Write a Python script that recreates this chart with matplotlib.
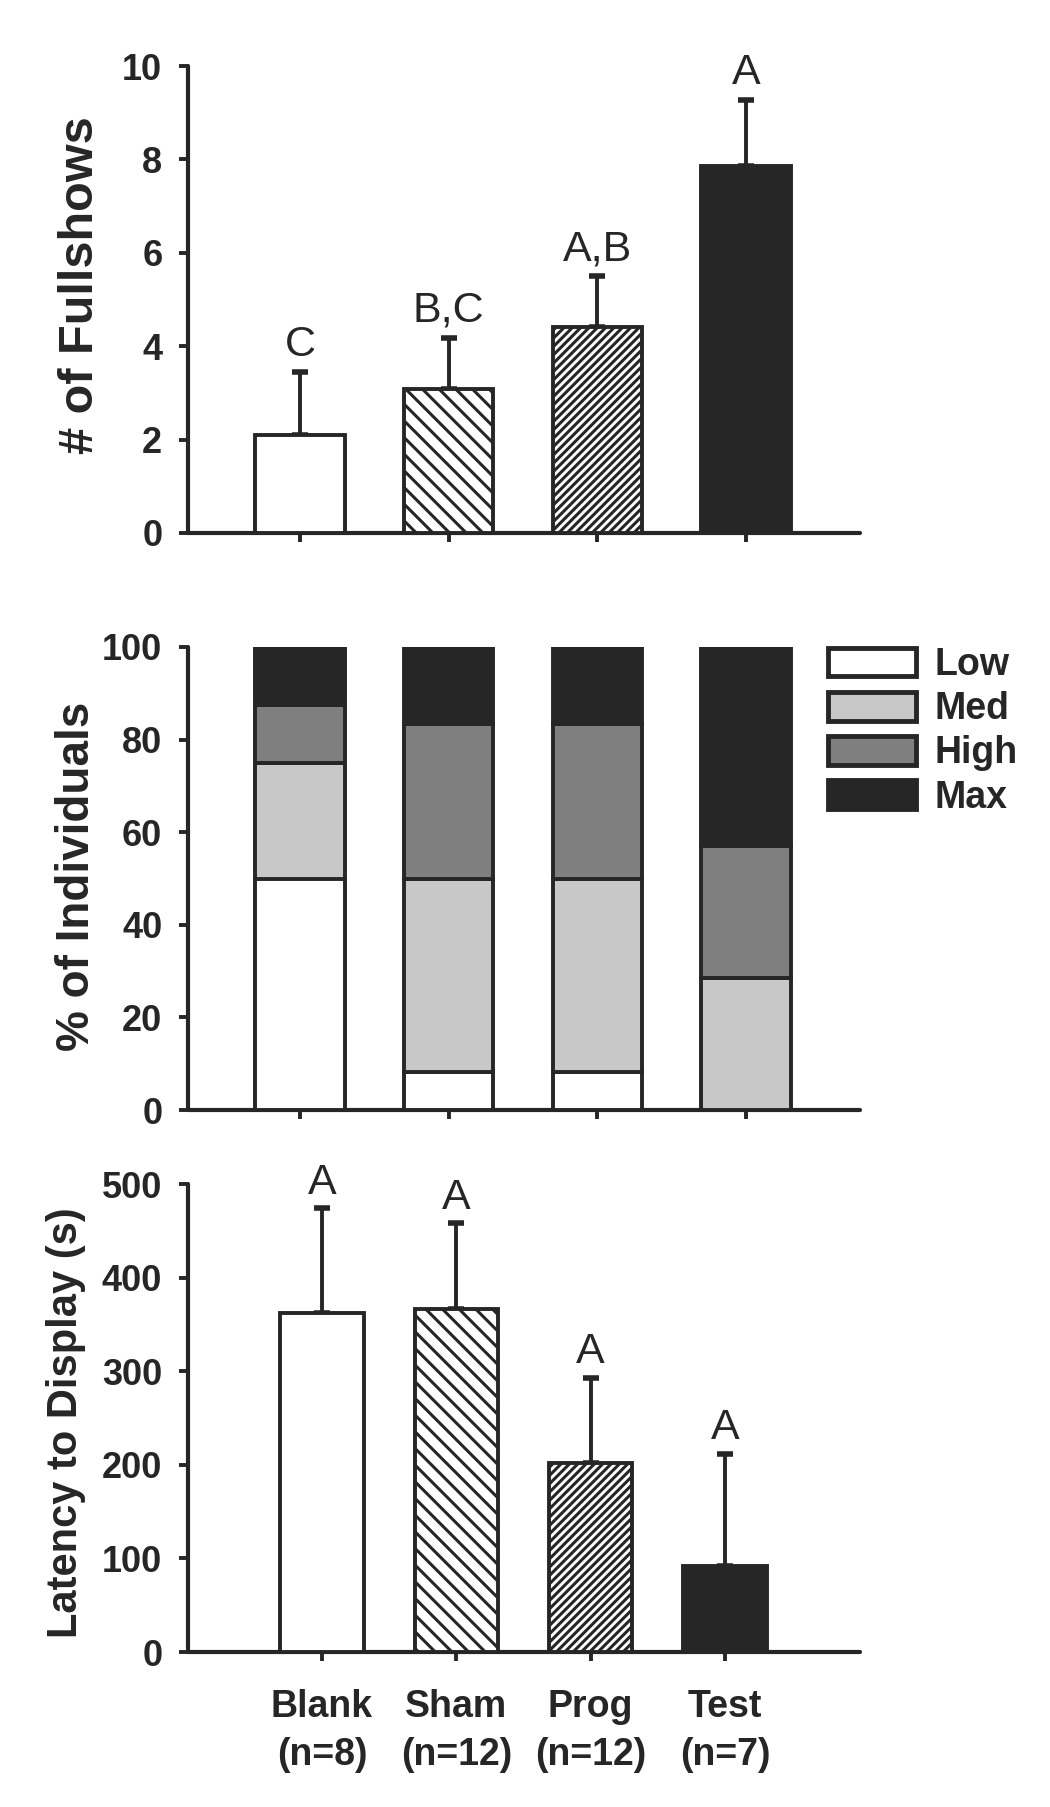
import matplotlib

matplotlib.use("Agg")
import matplotlib.pyplot as plt
from matplotlib.patches import Patch

INK = "#262626"

plt.rcParams["font.family"] = ["Liberation Sans", "DejaVu Sans"]
plt.rcParams["hatch.linewidth"] = 2.2
plt.rcParams["hatch.color"] = INK

GROUPS = ["Blank", "Sham", "Prog", "Test"]
GROUP_N = ["(n=8)", "(n=12)", "(n=12)", "(n=7)"]

# top panel: number of full shows (mean, upper SE)
FULLSHOWS = [2.1, 3.08, 4.42, 7.85]
FULLSHOWS_ERR = [1.35, 1.1, 1.08, 1.43]
FULLSHOWS_LETTERS = ["C", "B,C", "A,B", "A"]

# middle panel: % of individuals per display level
LEVELS = ["Low", "Med", "High", "Max"]
LEVEL_PCT = {
    "Low": [50.0, 8.3, 8.3, 0.0],
    "Med": [25.0, 41.7, 41.7, 28.6],
    "High": [12.5, 33.3, 33.3, 28.5],
    "Max": [12.5, 16.7, 16.7, 42.9],
}
LEVEL_COLORS = {"Low": "white", "Med": "#c8c8c8", "High": "#7f7f7f", "Max": INK}

# bottom panel: latency to display (s)
LATENCY = [362, 366, 202, 92]
LATENCY_ERR = [112, 92, 91, 120]
LATENCY_LETTERS = ["A", "A", "A", "A"]

FILLS = ["white", "white", "white", INK]
HATCHES = [None, "\\\\", "////", None]


def style_axis(ax, ylim, yticks, ylabel, label_xy, label_size):
    for side in ("top", "right"):
        ax.spines[side].set_visible(False)
    for side in ("left", "bottom"):
        ax.spines[side].set_linewidth(3)
        ax.spines[side].set_color(INK)
        ax.spines[side].set_capstyle("round")
    ax.set_ylim(*ylim)
    ax.set_yticks(yticks)
    ax.tick_params(axis="y", length=6.5, width=2.8, color=INK, pad=12,
                   labelsize=26, labelcolor=INK)
    ax.tick_params(axis="x", length=6.5, width=2.8, color=INK, direction="out")
    for lab in ax.get_yticklabels():
        lab.set_fontweight("bold")
    ax.set_ylabel(ylabel, fontsize=label_size, fontweight="bold", color=INK)
    ax.yaxis.set_label_coords(*label_xy)


def draw_bars(ax, x, heights, errs, letters, width, offset):
    for i in range(len(x)):
        ax.bar(x[i], heights[i], width=width, color=FILLS[i], edgecolor=INK,
               linewidth=2.8, hatch=HATCHES[i], zorder=3)
    ax.errorbar(x, heights, yerr=[[0] * len(x), errs], fmt="none",
                ecolor=INK, elinewidth=2.8, capsize=5.5, capthick=4, zorder=2)
    for i in range(len(x)):
        ax.annotate(letters[i], (x[i], heights[i] + errs[i]),
                    xytext=(0, offset), textcoords="offset points",
                    ha="center", va="bottom", fontsize=31, color=INK,
                    annotation_clip=False)


fig = plt.figure(figsize=(10.5, 18.07), dpi=100)
W, H = 1050, 1807
LEFT, AX_W = 188, 672

x = list(range(len(GROUPS)))

# top panel
ax1 = fig.add_axes([LEFT / W, 1 - 533 / H, AX_W / W, 467 / H])
draw_bars(ax1, x, FULLSHOWS, FULLSHOWS_ERR, FULLSHOWS_LETTERS, 0.6, 5)
ax1.set_xlim(-0.753, 3.767)
ax1.set_xticks(x)
ax1.set_xticklabels([])
style_axis(ax1, (0, 10), range(0, 11, 2), "# of Fullshows", (-0.126, 0.53), 35)

# middle panel
ax2 = fig.add_axes([LEFT / W, 1 - 1110 / H, AX_W / W, 463 / H])
bottom = [0.0] * len(GROUPS)
for level in LEVELS:
    vals = LEVEL_PCT[level]
    ax2.bar(x, vals, width=0.6, bottom=bottom, color=LEVEL_COLORS[level],
            edgecolor=INK, linewidth=2.8, zorder=3)
    bottom = [b + v for b, v in zip(bottom, vals)]
ax2.set_xlim(-0.753, 3.767)
ax2.set_xticks(x)
ax2.set_xticklabels([])
style_axis(ax2, (0, 100), range(0, 101, 20), "% of Individuals", (-0.133, 0.505), 33)
handles = [Patch(facecolor=LEVEL_COLORS[lv], edgecolor=INK, linewidth=3.5)
           for lv in LEVELS]
leg = ax2.legend(handles, LEVELS, loc="upper left",
                 bbox_to_anchor=(828 / W, 1 - 647 / H),
                 bbox_transform=fig.transFigure, frameon=False,
                 prop={"weight": "bold", "size": 27},
                 handlelength=2.35, handleheight=0.8, handletextpad=0.5,
                 labelspacing=0.22, borderpad=0, borderaxespad=0)
for t in leg.get_texts():
    t.set_color(INK)

# bottom panel
ax3 = fig.add_axes([LEFT / W, 1 - 1652 / H, AX_W / W, 468 / H])
draw_bars(ax3, x, LATENCY, LATENCY_ERR, LATENCY_LETTERS, 0.62, 4)
ax3.set_xlim(-0.998, 4.005)
ax3.set_xticks(x)
ax3.set_xticklabels([f"{g}\n{n}" for g, n in zip(GROUPS, GROUP_N)],
                    fontsize=27, fontweight="bold", color=INK, linespacing=1.45)
style_axis(ax3, (0, 500), range(0, 501, 100), "Latency to Display (s)",
           (-0.152, 0.49), 30)
ax3.tick_params(axis="x", pad=20)

fig.savefig("out.png", dpi=100)
